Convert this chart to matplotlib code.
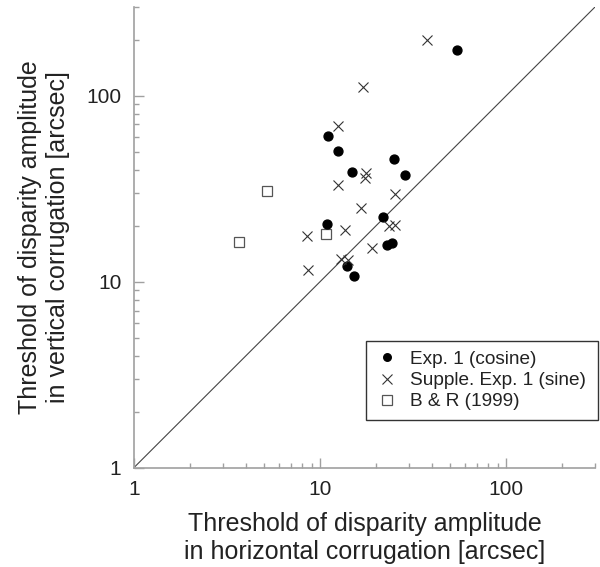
import numpy as np
import matplotlib
matplotlib.use("Agg")
import matplotlib.pyplot as plt

plt.rcParams['font.family'] = ['Liberation Sans', 'DejaVu Sans']

# Exp. 1 (cosine)
cos_h = [54.6, 11.0, 12.5, 24.9, 14.9, 28.4, 21.7, 10.9, 22.9, 24.4, 14.0, 15.3]
cos_v = [176, 60.3, 50.1, 45.4, 39.0, 37.6, 22.3, 20.5, 15.7, 16.1, 12.2, 10.7]

# Supple. Exp. 1 (sine)
sin_h = [37.4, 17.0, 12.5, 17.7, 17.4, 12.5, 25.4, 16.6, 23.4, 25.2, 13.6, 8.5, 19.0, 13.0, 14.1, 8.6]
sin_v = [199, 111, 69, 38.3, 36.2, 32.9, 29.5, 24.8, 19.8, 20.2, 19.0, 17.5, 15.1, 13.2, 13.0, 11.5]

# B & R (1999)
br_h = [5.19, 10.8, 3.67]
br_v = [30.8, 18.1, 16.4]

lims = [1, 300]

fig = plt.figure(figsize=(6, 5.67), dpi=100)
ax = fig.add_axes([0.223, 0.175, 0.769, 0.813])

ax.plot(lims, lims, color='#444444', lw=0.8, zorder=1)
ax.plot(cos_h, cos_v, 'o', color='black', ms=6.4, ls='none', label='Exp. 1 (cosine)', zorder=3)
ax.plot(sin_h, sin_v, 'x', color='#333333', ms=7.8, mew=0.8, ls='none', label='Supple. Exp. 1 (sine)', zorder=3)
ax.plot(br_h, br_v, 's', mfc='white', mec='#555555', ms=7.8, mew=0.9, ls='none', label='B & R (1999)', zorder=2)

ax.set_xscale('log')
ax.set_yscale('log')
ax.set_xlim(lims)
ax.set_ylim(lims)
ax.set_xticks([1, 10, 100])
ax.set_yticks([1, 10, 100])
ax.set_xticklabels(['1', '10', '100'])
ax.set_yticklabels(['1', '10', '100'])

for s in ['top', 'right']:
    ax.spines[s].set_visible(False)
for s in ['left', 'bottom']:
    ax.spines[s].set_color('#a0a0a0')
    ax.spines[s].set_linewidth(1.2)

ax.tick_params(which='major', direction='in', length=7, width=1, color='#a0a0a0',
               labelsize=15, pad=9, labelcolor='#222222')
ax.tick_params(which='minor', direction='in', length=3.5, width=1, color='#a0a0a0')

ax.set_xlabel('Threshold of disparity amplitude\nin horizontal corrugation [arcsec]',
              fontsize=18, color='#222222', labelpad=9)
ax.set_ylabel('Threshold of disparity amplitude\nin vertical corrugation [arcsec]',
              fontsize=18, color='#222222', labelpad=12)

leg = ax.legend(loc='lower left', bbox_to_anchor=(0.503, 0.104, 0.503, 0.18), mode='expand',
                borderaxespad=0, fontsize=13.7, frameon=True, fancybox=False,
                handletextpad=0.6, handlelength=1.2, labelspacing=0.2, borderpad=0.5,
                markerscale=0.85)
leg.get_frame().set_edgecolor('black')
leg.get_frame().set_linewidth(1.0)
for t in leg.get_texts():
    t.set_color('#222222')

fig.savefig('out.png', dpi=100)
